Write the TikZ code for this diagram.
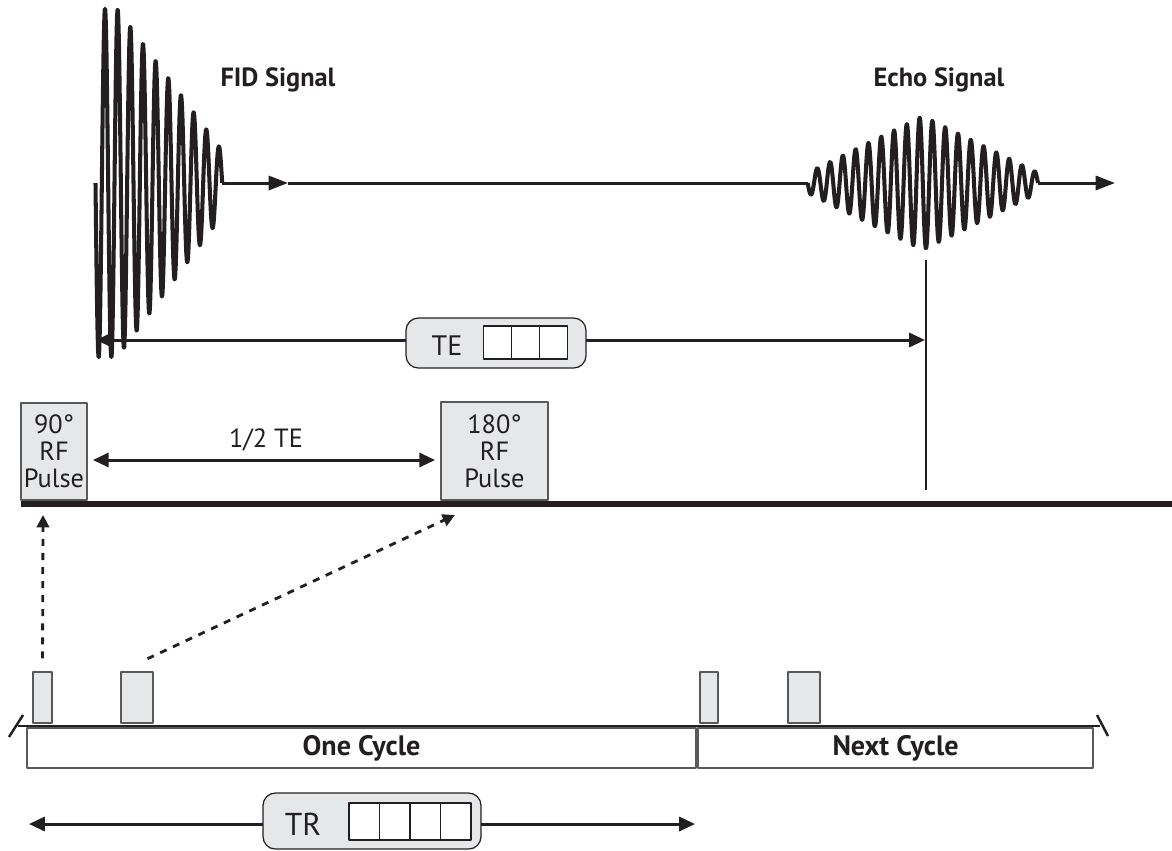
\documentclass[tikz,border=0pt]{standalone}
\usepackage{fontspec}
\setmainfont{PT Sans}
\usetikzlibrary{arrows.meta}
\definecolor{pulsegray}{HTML}{E6E7E8}
\definecolor{ink}{HTML}{231F20}

\begin{document}
\begin{tikzpicture}[x=0.02cm, y=-0.02cm, line join=round, color=ink,
    >={Triangle[length=9pt,width=8pt]}, font=\fontsize{14}{15.5}\selectfont]
  \tikzset{
    wave/.style={line width=2.3pt},
    axisline/.style={line width=1.7pt},
    dim/.style={<->, line width=1.7pt},
    cue/.style={-{Triangle[length=7pt,width=7pt]}, line width=1.6pt, dash pattern=on 4pt off 4pt},
    pulsebox/.style={draw=black!65, fill=pulsegray, line width=0.7pt, align=center, inner sep=0pt,
      font=\fontsize{15}{15.5}\selectfont},
    roundbox/.style={draw=ink, fill=pulsegray, line width=0.7pt, rounded corners=7pt, inner sep=0pt},
    cell/.style={draw=ink, fill=white, line width=0.6pt, inner sep=0pt},
    cyclebox/.style={draw=black!65, fill=white, line width=0.7pt, inner sep=0pt,
      minimum height=0.8cm, font=\fontsize{16}{18}\selectfont\bfseries}
  }
  \useasboundingbox (0,0) rectangle (1172,850);

  % FID and echo
  \draw[wave] plot[domain=0:126.7, samples=301]
    (95.5+\x, {183+min(175,1.355*(150.5-\x))*sin(\x/12.67*360)});
  \draw[wave] plot[domain=0:230.4, samples=541]
    (807.6+\x, {183+(10+57*(1-abs(\x-115.2)/115.2))*sin(\x/12.8*360)});
  \coordinate (fidEnd) at (222.2,183);
  \coordinate (fidTip) at (288,183);
  \coordinate (echoStart) at (807.6,183);
  \coordinate (echoEnd) at (1038,183);
  \coordinate (sigTip) at (1115,183);
  \draw[axisline, -{Triangle[length=11pt,width=8pt]}] (fidEnd) -- (fidTip);
  \draw[axisline] (fidTip) -- (echoStart);
  \draw[axisline, -{Triangle[length=11pt,width=8pt]}] (echoEnd) -- (sigTip);
  \node[font=\fontsize{15}{17}\selectfont\bfseries] (fid) at (278,80) {FID Signal};
  \node[font=\fontsize{15}{17}\selectfont\bfseries] (echo) at (939,80) {Echo Signal};

  % TE
  \coordinate (teL) at (96,340);
  \coordinate (teR) at (925,340);
  \draw[dim] (teL) -- (teR);
  \node[roundbox, minimum width=3.6cm, minimum height=1cm] (tebox) at (496,343) {};
  \node[font=\fontsize{16}{18}\selectfont] (te) at (447,346) {TE};
  \foreach \i in {0,1,2}
    \node[cell, minimum width=0.566cm, minimum height=0.66cm] (tecell\i) at (497.2+\i*28.3,342.5) {};
  \coordinate (echoTop) at (926,260);
  \coordinate (echoFoot) at (926,490);
  \draw[line width=0.6pt] (echoTop) -- (echoFoot);

  % RF pulses on the time line
  \node[pulsebox, minimum width=1.32cm, minimum height=1.94cm] (p90) at (54,451.5) {90°\\RF\\Pulse};
  \node[pulsebox, minimum width=2.14cm, minimum height=1.96cm] (p180) at (494.5,451) {180°\\RF\\Pulse};
  \draw[dim, shorten <=3pt, shorten >=3pt] (p90.east |- 0,460) -- (p180.west |- 0,460);
  \node[font=\fontsize{15}{17}\selectfont] (half) at (266,440) {1/2 TE};
  \coordinate (baseL) at (21,504);
  \coordinate (baseR) at (1172,504);
  \draw[line width=3.4pt] (baseL) -- (baseR);

  % sequence
  \foreach \n/\x/\w in {s1/42.5/0.38, s2/137/0.64, s3/709/0.36, s4/804/0.64}
    \node[pulsebox, minimum width=\w cm, minimum height=1.02cm] (\n) at (\x,697.5) {};
  \coordinate (t90) at (43,515);
  \coordinate (t180) at (455,515);
  \draw[cue, shorten <=7.4pt] (s1.north) -- (t90);
  \draw[cue, shorten <=17pt] (s2.north west) -- (t180);
  \coordinate (lineL) at (18,726);
  \coordinate (lineR) at (1100,726);
  \draw[line width=1.4pt] (lineL) -- (lineR);
  \draw[line width=1.4pt] (9,737) -- (23,715);
  \draw[line width=1.4pt] (1097,715) -- (1108,736);
  \node[cyclebox, minimum width=13.38cm] (one) at (361.5,748) {One Cycle};
  \node[cyclebox, minimum width=7.9cm] (next) at (895.5,748) {Next Cycle};

  % TR
  \coordinate (trL) at (29,824);
  \coordinate (trR) at (695,824);
  \draw[dim] (trL) -- (trR);
  \node[roundbox, minimum width=4.36cm, minimum height=1.12cm] (trbox) at (372,821) {};
  \node[font=\fontsize{18}{20}\selectfont] (tr) at (303,824) {TR};
  \foreach \i in {0,...,3}
    \node[cell, minimum width=0.61cm, minimum height=0.74cm] (trcell\i) at (364.25+\i*30.5,821.5) {};
\end{tikzpicture}
\end{document}
